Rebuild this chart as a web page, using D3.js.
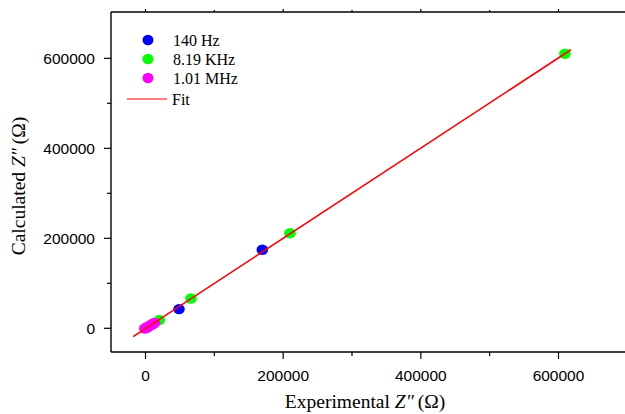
<!DOCTYPE html>
<html><head><meta charset="utf-8">
<script src="https://cdn.jsdelivr.net/npm/d3@7"></script>
<style>body{margin:0;background:#fff}svg{display:block}</style>
</head><body>
<script>
// Data (Experimental Z'' , Calculated Z'')
const blueX  = [3000, 12000, 48700, 169700];
const blueY  = [2500, 11000, 42700, 174600];
const greenX = [1000, 20000, 66100, 209900, 609300];
const greenY = [1000, 18300, 66300, 211300, 610000];
const magX   = [-1000, 1000, 3000, 5000, 7000, 9000, 11000, 13000];
const magY   = [-500, 1000, 2800, 4500, 6500, 8300, 10200, 12000];
const fitX   = [-18000, 618000];
const fitY   = [-18500, 619000];
const majorTicks = [0, 200000, 400000, 600000];
const minorTicks = [100000, 300000, 500000];
const seriesNames = ["140 Hz", "8.19 KHz", "1.01 MHz", "Fit"];

const W = 625, H = 414;
const svg = d3.select("body").append("svg").attr("width", W).attr("height", H);
const x = d3.scaleLinear([0, 600000], [145.5, 558.5]);
const y = d3.scaleLinear([0, 600000], [328.3, 58.3]);
const L = 111, R = 628, T = 12, B = 352;

// frame lines
const fr = svg.append("g").attr("stroke", "#000").attr("stroke-width", 1.4);
fr.append("line").attr("x1", L).attr("x2", L).attr("y1", T).attr("y2", B);
fr.append("line").attr("x1", L).attr("x2", R).attr("y1", B).attr("y2", B);
fr.append("line").attr("x1", L).attr("x2", R).attr("y1", T).attr("y2", T);

// ticks
const tk = svg.append("g").attr("stroke", "#000").attr("stroke-width", 1.2);
majorTicks.forEach(v => {
  tk.append("line").attr("x1", x(v)).attr("x2", x(v)).attr("y1", B).attr("y2", B + 7);
  tk.append("line").attr("y1", y(v)).attr("y2", y(v)).attr("x1", L).attr("x2", L - 7);
  tk.append("line").attr("x1", x(v)).attr("x2", x(v)).attr("y1", T).attr("y2", T - 3);
});
minorTicks.forEach(v => {
  tk.append("line").attr("x1", x(v)).attr("x2", x(v)).attr("y1", B).attr("y2", B + 4);
  tk.append("line").attr("y1", y(v)).attr("y2", y(v)).attr("x1", L).attr("x2", L - 4);
  tk.append("line").attr("x1", x(v)).attr("x2", x(v)).attr("y1", T).attr("y2", T - 2);
});

const lab = svg.append("g").attr("font-family", "'Liberation Sans', Arial, sans-serif")
  .attr("font-size", "15.5px").attr("fill", "#000");
majorTicks.forEach(v => {
  lab.append("text").attr("x", x(v)).attr("y", 381).attr("text-anchor", "middle").text(v);
  lab.append("text").attr("x", 95).attr("y", y(v) + 5.5).attr("text-anchor", "end").text(v);
});

// data
const plot = svg.append("g");
function pts(xs, ys, col) {
  plot.selectAll(null).data(xs.map((d, i) => [d, ys[i]])).enter().append("ellipse")
    .attr("cx", d => x(d[0])).attr("cy", d => y(d[1])).attr("rx", 5.8).attr("ry", 5.2).attr("fill", col);
}
pts(blueX, blueY, "#0000ff");
pts(greenX, greenY, "#00ff00");
pts(magX, magY, "#ff00ff");
plot.append("line").attr("x1", x(fitX[0])).attr("y1", y(fitY[0])).attr("x2", x(fitX[1])).attr("y2", y(fitY[1]))
  .attr("stroke", "#ff0000").attr("stroke-width", 1.6);

// legend
const lg = svg.append("g").attr("font-family", "'Liberation Serif', 'Times New Roman', serif").attr("font-size", "16px");
const cols = ["#0000ff", "#00ff00", "#ff00ff"];
const ly = [40, 59, 78];
cols.forEach((c, i) => {
  lg.append("ellipse").attr("cx", 148).attr("cy", ly[i]).attr("rx", 5.5).attr("ry", 5.2).attr("fill", c);
  lg.append("text").attr("x", 173).attr("y", ly[i] + 5.5).text(seriesNames[i]);
});
lg.append("line").attr("x1", 127).attr("x2", 167).attr("y1", 99).attr("y2", 99).attr("stroke", "#ff0000").attr("stroke-width", 1.2);
lg.append("text").attr("x", 172).attr("y", 104.5).text(seriesNames[3]);

// titles
const tf = "'Liberation Serif', 'Times New Roman', serif";
const xt = svg.append("text").attr("x", 365).attr("y", 408).attr("text-anchor", "middle")
  .attr("font-family", tf).attr("font-size", "19.5px");
xt.append("tspan").text("Experimental ");
xt.append("tspan").attr("font-style", "italic").text("Z\u2033");
xt.append("tspan").text("\u2009(\u03A9)");
const yt = svg.append("text").attr("transform", "translate(25,186) rotate(-90)").attr("text-anchor", "middle")
  .attr("font-family", tf).attr("font-size", "19.5px");
yt.append("tspan").text("Calculated ");
yt.append("tspan").attr("font-style", "italic").text("Z\u2033");
yt.append("tspan").text("\u2009(\u03A9)");
</script>
</body></html>
